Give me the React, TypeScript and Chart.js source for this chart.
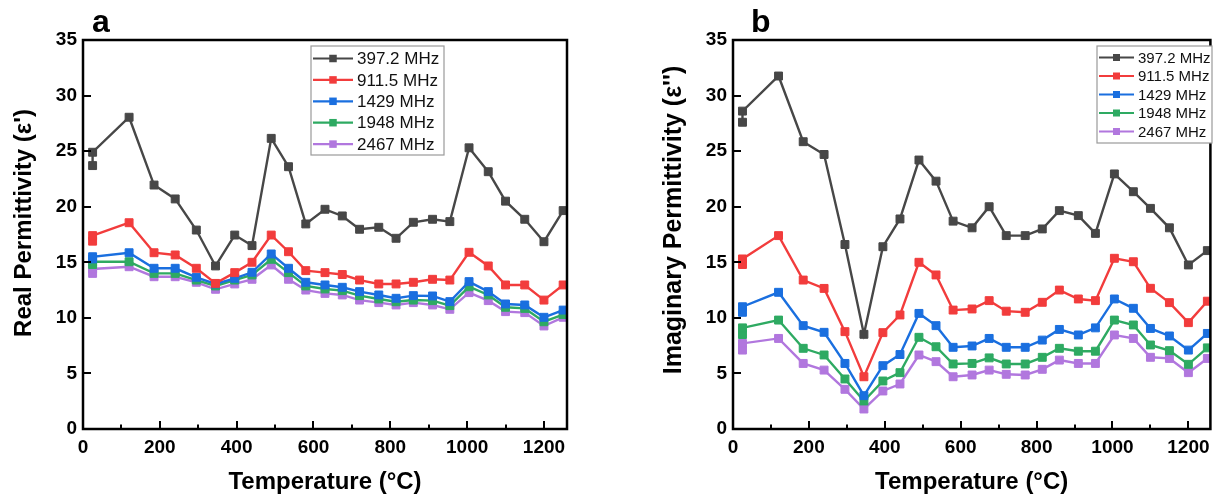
import React, { useEffect, useRef } from 'react';
import { Chart, registerables } from 'chart.js';

Chart.register(...registerables);

// ---------------- data ----------------
const temperatures = [25, 25, 120, 185, 240, 295, 345, 395, 440, 490, 535, 580, 630, 675, 720, 770, 815, 860, 910, 955, 1005, 1055, 1100, 1150, 1200, 1250];

const seriesLabels = ['397.2 MHz', '911.5 MHz', '1429 MHz', '1948 MHz', '2467 MHz'];
const seriesColors = ['#474747', '#F23C3C', '#1A6FDF', '#2EAA62', '#B177DE'];

// Real permittivity (ε')
const real397 = [23.7, 24.9, 28.05, 21.95, 20.7, 17.9, 14.67, 17.45, 16.5, 26.15, 23.6, 18.45, 19.77, 19.17, 17.97, 18.15, 17.16, 18.6, 18.87, 18.66, 25.3, 23.15, 20.5, 18.87, 16.85, 19.65];
const real911 = [16.9, 17.4, 18.56, 15.86, 15.66, 14.46, 13.1, 14.07, 15.0, 17.45, 15.95, 14.25, 14.07, 13.9, 13.4, 13.05, 13.05, 13.2, 13.47, 13.4, 15.9, 14.67, 12.96, 12.96, 11.6, 12.96];
const real1429 = [15.3, 15.5, 15.86, 14.46, 14.46, 13.65, 13.05, 13.56, 14.1, 15.75, 14.46, 13.2, 12.96, 12.75, 12.36, 12.06, 11.76, 12.0, 11.97, 11.46, 13.26, 12.36, 11.25, 11.16, 10.05, 10.7];
const real1948 = [14.8, 15.05, 15.05, 14.0, 14.0, 13.4, 12.87, 13.4, 13.86, 15.27, 14.07, 12.87, 12.6, 12.45, 12.0, 11.7, 11.45, 11.6, 11.55, 11.1, 12.8, 12.06, 10.95, 10.85, 9.65, 10.3];
const real2467 = [14.0, 14.4, 14.6, 13.7, 13.7, 13.2, 12.57, 13.05, 13.47, 14.76, 13.47, 12.5, 12.2, 12.06, 11.6, 11.37, 11.16, 11.37, 11.16, 10.77, 12.27, 11.55, 10.56, 10.47, 9.27, 10.05];

// Imaginary permittivity (ε'')
const imag397 = [27.6, 28.6, 31.76, 25.85, 24.7, 16.6, 8.52, 16.4, 18.9, 24.2, 22.3, 18.7, 18.1, 20.0, 17.4, 17.4, 18.0, 19.65, 19.2, 17.6, 22.95, 21.35, 19.85, 18.1, 14.76, 16.05];
const imag911 = [14.8, 15.3, 17.4, 13.4, 12.65, 8.76, 4.7, 8.67, 10.26, 15.0, 13.86, 10.7, 10.8, 11.55, 10.6, 10.5, 11.4, 12.5, 11.7, 11.55, 15.36, 15.05, 12.66, 11.37, 9.57, 11.5];
const imag1429 = [10.5, 11.0, 12.3, 9.3, 8.7, 5.9, 3.0, 5.7, 6.7, 10.4, 9.3, 7.35, 7.47, 8.15, 7.35, 7.35, 8.0, 8.96, 8.46, 9.1, 11.7, 10.86, 9.05, 8.37, 7.1, 8.6];
const imag1948 = [8.5, 9.1, 9.8, 7.26, 6.66, 4.5, 2.52, 4.32, 5.07, 8.25, 7.4, 5.85, 5.9, 6.4, 5.85, 5.85, 6.45, 7.26, 7.0, 7.0, 9.8, 9.36, 7.56, 7.05, 5.82, 7.3];
const imag2467 = [7.1, 7.7, 8.15, 5.9, 5.3, 3.57, 1.8, 3.42, 4.05, 6.66, 6.06, 4.7, 4.86, 5.3, 4.92, 4.86, 5.37, 6.2, 5.9, 5.9, 8.46, 8.15, 6.45, 6.35, 5.07, 6.35];

const xTickValues = [0, 200, 400, 600, 800, 1000, 1200];
const xMinorTickValues = [100, 300, 500, 700, 900, 1100];
const yTickValues = [0, 5, 10, 15, 20, 25, 30, 35];

const FONT = '"Liberation Sans", Arial, Helvetica, sans-serif';

// ---------------- decoration plugin ----------------
const decorPlugin = {
  id: 'decor',
  afterDraw(chart: any, _args: any, o: any) {
    const { ctx, chartArea: ca } = chart;
    const xs = chart.scales.x;
    const ys = chart.scales.y;
    ctx.save();
    ctx.strokeStyle = '#000';
    ctx.lineCap = 'butt';
    // inward ticks
    ctx.lineWidth = 2;
    ctx.beginPath();
    xTickValues.forEach((v) => {
      const px = Math.round(xs.getPixelForValue(v));
      ctx.moveTo(px, ca.bottom);
      ctx.lineTo(px, ca.bottom - 8);
    });
    xMinorTickValues.forEach((v) => {
      const px = Math.round(xs.getPixelForValue(v));
      ctx.moveTo(px, ca.bottom);
      ctx.lineTo(px, ca.bottom - 4.5);
    });
    yTickValues.forEach((v) => {
      const py = Math.round(ys.getPixelForValue(v));
      ctx.moveTo(ca.left, py);
      ctx.lineTo(ca.left + 8, py);
    });
    ctx.stroke();
    // frame
    ctx.lineWidth = 2.5;
    ctx.strokeRect(ca.left, ca.top, ca.right - ca.left, ca.bottom - ca.top);

    // panel letter
    ctx.fillStyle = '#000';
    ctx.font = `bold ${o.letterSize}px ${FONT}`;
    ctx.textAlign = 'left';
    ctx.textBaseline = 'alphabetic';
    ctx.fillText(o.letter, o.letterX, o.letterY);

    // x title
    ctx.font = `bold 24px ${FONT}`;
    ctx.textAlign = 'center';
    ctx.fillText(o.xTitle, (ca.left + ca.right) / 2, o.xTitleY);

    // y title
    ctx.save();
    ctx.translate(o.yTitleX, o.yTitleCY);
    ctx.rotate(-Math.PI / 2);
    ctx.font = `bold ${o.yTitleSize}px ${FONT}`;
    ctx.textAlign = 'center';
    ctx.fillText(o.yTitle, 0, 0);
    ctx.restore();

    // legend
    const L = o.legend;
    ctx.fillStyle = '#fff';
    ctx.fillRect(L.x, L.y, L.w, L.h);
    ctx.strokeStyle = '#9a9a9a';
    ctx.lineWidth = 1.2;
    ctx.strokeRect(L.x, L.y, L.w, L.h);
    ctx.font = `${L.fontSize}px ${FONT}`;
    ctx.textAlign = 'left';
    ctx.textBaseline = 'middle';
    chart.data.datasets.forEach((ds: any, i: number) => {
      const cy = L.y + L.firstRow + i * L.rowGap;
      ctx.strokeStyle = ds.borderColor;
      ctx.lineWidth = 2.2;
      ctx.beginPath();
      ctx.moveTo(L.x + 2, cy);
      ctx.lineTo(L.x + 2 + L.lineLen, cy);
      ctx.stroke();
      ctx.fillStyle = ds.backgroundColor;
      const ms = L.marker;
      ctx.fillRect(L.x + 2 + L.lineLen / 2 - ms / 2, cy - ms / 2, ms, ms);
      ctx.fillStyle = '#111';
      ctx.fillText(ds.label, L.x + 2 + L.lineLen + 4, cy + 1);
    });
    ctx.restore();
  },
};

type Panel = {
  width: number;
  left: number;
  xMax: number;
  plotLeft: number;
  plotRight: number;
  series: number[][];
  decor: any;
};

function buildChart(canvas: HTMLCanvasElement, p: Panel) {
  const datasets = p.series.map((vals, i) => ({
    label: seriesLabels[i],
    data: temperatures.map((t, k) => ({ x: t, y: vals[k] })),
    borderColor: seriesColors[i],
    backgroundColor: seriesColors[i],
    borderWidth: 2.4,
    pointStyle: 'rect',
    pointRadius: 5.6,
    pointBorderWidth: 1,
    pointBorderColor: seriesColors[i],
    pointBackgroundColor: seriesColors[i],
    tension: 0,
    showLine: true,
  }));
  return new Chart(canvas, {
    type: 'line',
    data: { datasets },
    plugins: [decorPlugin],
    options: {
      animation: false,
      responsive: false,
      devicePixelRatio: 1,
      layout: { padding: { left: 0, top: 40, right: p.width - p.plotRight, bottom: 0 } },
      plugins: {
        legend: { display: false },
        tooltip: { enabled: false },
        decor: p.decor,
      } as any,
      scales: {
        x: {
          type: 'linear',
          min: 0,
          max: p.xMax,
          afterBuildTicks: (s: any) => {
            s.ticks = xTickValues.map((v) => ({ value: v }));
          },
          afterFit: (s: any) => {
            s.height = 496 - 429;
          },
          grid: { display: false, drawTicks: false },
          border: { display: false },
          ticks: {
            padding: 7,
            color: '#000',
            font: { family: FONT, size: 19, weight: 'bold' },
            maxRotation: 0,
            callback: (v: any) => String(v),
          },
        },
        y: {
          type: 'linear',
          min: 0,
          max: 35,
          afterBuildTicks: (s: any) => {
            s.ticks = yTickValues.map((v) => ({ value: v }));
          },
          afterFit: (s: any) => {
            s.width = p.plotLeft;
          },
          grid: { display: false, drawTicks: false },
          border: { display: false },
          ticks: {
            padding: 6,
            color: '#000',
            font: { family: FONT, size: 19, weight: 'bold' },
            callback: (v: any) => String(v),
          },
        },
      },
    } as any,
  });
}

const panelA: Panel = {
  width: 608,
  left: 0,
  xMax: 1260,
  plotLeft: 83,
  plotRight: 567,
  series: [real397, real911, real1429, real1948, real2467],
  decor: {
    letter: 'a',
    letterSize: 32,
    letterX: 92,
    letterY: 32,
    xTitle: 'Temperature (°C)',
    xTitleY: 489,
    yTitle: "Real Permittivity (ε')",
    yTitleSize: 24,
    yTitleX: 31,
    yTitleCY: 223,
    legend: { x: 311, y: 46, w: 133, h: 109, firstRow: 12.5, rowGap: 21.4, lineLen: 40, marker: 7.5, fontSize: 17 },
  },
};

const panelB: Panel = {
  width: 609,
  left: 608,
  xMax: 1258,
  plotLeft: 125,
  plotRight: 607,
  series: [imag397, imag911, imag1429, imag1948, imag2467],
  decor: {
    letter: 'b',
    letterSize: 32,
    letterX: 143,
    letterY: 32,
    xTitle: 'Temperature (°C)',
    xTitleY: 489,
    yTitle: "Imaginary Permittivity (ε'')",
    yTitleSize: 25,
    yTitleX: 73,
    yTitleCY: 220,
    legend: { x: 489, y: 46, w: 115, h: 97, firstRow: 11.5, rowGap: 18.5, lineLen: 35, marker: 7, fontSize: 15 },
  },
};

function ChartPanel({ panel }: { panel: Panel }) {
  const ref = useRef<HTMLCanvasElement | null>(null);
  useEffect(() => {
    if (!ref.current) return;
    const chart = buildChart(ref.current, panel);
    return () => chart.destroy();
  }, [panel]);
  return (
    <canvas
      ref={ref}
      width={panel.width}
      height={496}
      style={{ position: 'absolute', left: panel.left, top: 0, width: panel.width, height: 496, display: 'block' }}
    />
  );
}

export default function App() {
  return (
    <div style={{ position: 'fixed', left: 0, top: 0, width: 1217, height: 496, background: '#fff', overflow: 'hidden' }}>
      <ChartPanel panel={panelA} />
      <ChartPanel panel={panelB} />
    </div>
  );
}
